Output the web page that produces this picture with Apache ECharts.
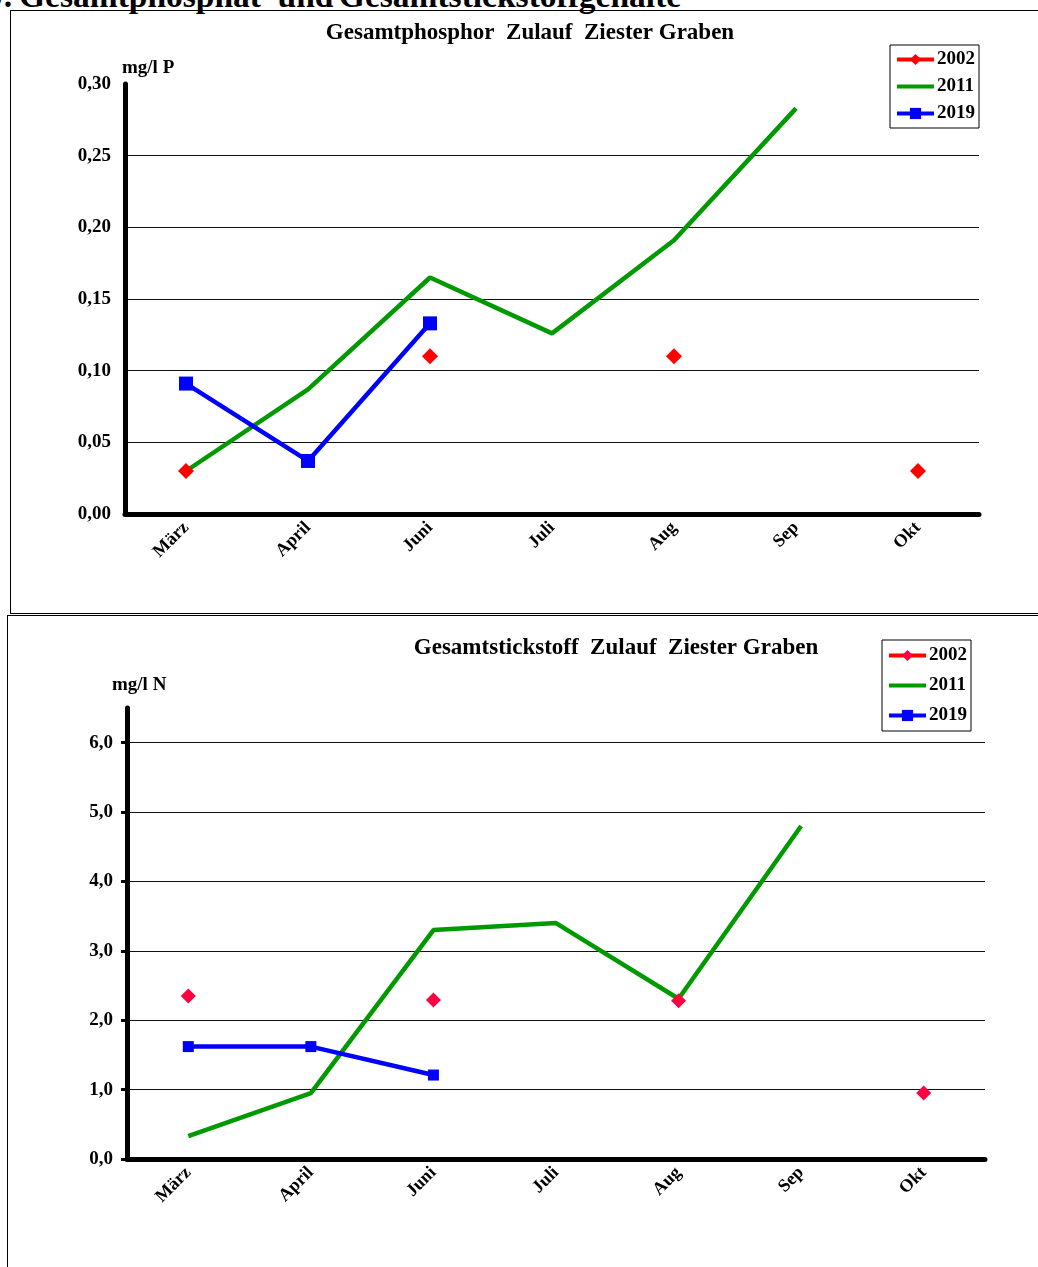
<!DOCTYPE html>
<html>
<head>
<meta charset="utf-8">
<script src="https://cdn.jsdelivr.net/npm/echarts@6/dist/echarts.min.js"></script>
<style>
  html, body { margin: 0; padding: 0; background: #fff; }
  body { width: 1038px; height: 1267px; position: relative; overflow: hidden; font-family: "Liberation Serif", "DejaVu Serif", serif; }
  #heading { position: absolute; left: -31px; top: -21px; font-size: 33.5px; font-weight: bold; white-space: nowrap; line-height: 33px; color: #000; word-spacing: -3px; }
  .frame { position: absolute; box-sizing: border-box; }
  #f1 { left: 10px; top: 10px; width: 1100px; height: 604px; border-left: 1px solid #000; border-top: 1px solid #000; border-bottom: 1px solid #000; }
  #f2 { left: 7px; top: 615px; width: 1100px; height: 700px; border-left: 1px solid #000; border-top: 1px solid #000; }
  #c1 { position: absolute; left: 0; top: 0; width: 1038px; height: 612px; }
  #c2 { position: absolute; left: 0; top: 614px; width: 1038px; height: 653px; }
</style>
</head>
<body>
<div id="heading">10: Gesamtphosphat- und Gesamtstickstoffgehalte</div>
<div class="frame" id="f1"></div>
<div class="frame" id="f2"></div>
<div id="c1"></div>
<div id="c2"></div>
<script>
// ---- Data ----
const categories = ['März', 'April', 'Juni', 'Juli', 'Aug', 'Sep', 'Okt'];
const seriesNames = ['2002', '2011', '2019'];

// Gesamtphosphor (mg/l P)
const p2002 = [0.030, null, 0.110, null, 0.110, null, 0.030];
const p2011 = [0.030, 0.087, 0.165, 0.126, 0.191, 0.283, null];
const p2019 = [0.091, 0.037, 0.133, null, null, null, null];
const pTicks = [0, 0.05, 0.10, 0.15, 0.20, 0.25, 0.30];

// Gesamtstickstoff (mg/l N)
const n2002 = [2.35, null, 2.29, null, 2.28, null, 0.95];
const n2011 = [0.33, 0.95, 3.30, 3.40, 2.31, 4.80, null];
const n2019 = [1.62, 1.62, 1.21, null, null, null, null];
const nTicks = [0, 1, 2, 3, 4, 5, 6];

const FONT = '"Liberation Serif", "Times New Roman", serif';
const GREEN = '#009a00';
const BLUE = '#0000ff';

function makeOption(cfg) {
  return {
    animation: false,
    title: [
      { text: cfg.title, left: cfg.titleX, top: cfg.titleY, textAlign: 'center',
        textStyle: { fontFamily: FONT, fontWeight: 'bold', fontSize: 23, color: '#000' } },
      { text: cfg.unit, left: cfg.unitX, top: cfg.unitY,
        textStyle: { fontFamily: FONT, fontWeight: 'bold', fontSize: 19, color: '#000' } }
    ],
    legend: {
      orient: 'vertical',
      left: cfg.legendX, top: cfg.legendY,
      borderColor: '#000', borderWidth: 1,
      padding: cfg.legendPad,
      itemGap: cfg.legendGap,
      itemWidth: 37, itemHeight: 14,
      lineStyle: { width: 4 },
      textStyle: { fontFamily: FONT, fontWeight: 'bold', fontSize: 19, color: '#000', padding: [0, 0, 0, -2] },
      data: [
        { name: '2002', itemStyle: { color: cfg.c2002 }, lineStyle: { color: '#ff0000', width: 4 } },
        { name: '2011', itemStyle: { opacity: 0 }, lineStyle: { color: GREEN, width: 4 } },
        { name: '2019', lineStyle: { color: BLUE, width: 4 } }
      ]
    },
    grid: { left: cfg.gridLeft, top: cfg.gridTop, width: cfg.gridW, height: cfg.gridH, containLabel: false },
    xAxis: {
      type: 'category',
      data: categories,
      boundaryGap: true,
      axisLine: { show: true, lineStyle: { color: '#000', width: 5 } },
      axisTick: { show: false },
      axisLabel: { rotate: 45, margin: 11, interval: 0, fontFamily: FONT, fontWeight: 'bold', fontSize: 18, color: '#000' },
      splitLine: { show: false }
    },
    yAxis: {
      type: 'value',
      min: 0, max: cfg.yMax, interval: cfg.yInterval,
      axisLine: { show: true, lineStyle: { color: '#000', width: 5 } },
      axisTick: cfg.yTick ? { show: true, inside: false, length: 6, lineStyle: { color: '#000', width: 3 }, customValues: cfg.ticks } : { show: false },
      axisLabel: {
        margin: 14,
        customValues: cfg.ticks,
        fontFamily: FONT, fontWeight: 'bold', fontSize: 19, color: '#000',
        formatter: v => v.toFixed(cfg.dec).replace('.', ',')
      },
      splitLine: { show: true, showMinLine: false, showMaxLine: cfg.showMax, lineStyle: { color: '#111', width: 1.2 } }
    },
    series: [
      { name: '2002', type: 'line', data: cfg.d2002, symbol: 'diamond', symbolSize: cfg.diaSize,
        itemStyle: { color: cfg.c2002 }, lineStyle: { color: '#ff0000', width: 4 }, connectNulls: false, z: 4 },
      { name: '2011', type: 'line', data: cfg.d2011, symbol: 'none', showSymbol: false,
        itemStyle: { color: GREEN }, lineStyle: { color: GREEN, width: 4.5 }, connectNulls: false, z: 2 },
      { name: '2019', type: 'line', data: cfg.d2019, symbol: 'rect', symbolSize: cfg.sqSize,
        itemStyle: { color: BLUE }, lineStyle: { color: BLUE, width: 4.5 }, connectNulls: false, z: 3 }
    ]
  };
}

const chart1 = echarts.init(document.getElementById('c1'));
chart1.setOption(makeOption({
  title: 'Gesamtphosphor  Zulauf  Ziester Graben', titleX: 525, titleY: 17,
  unit: 'mg/l P', unitX: 117, unitY: 54,
  legendX: 890, legendY: 45, legendPad: [5, 4, 5, 5], legendGap: 8,
  gridLeft: 125, gridTop: 84, gridW: 854, gridH: 430,
  yMax: 0.30, yInterval: 0.05, ticks: pTicks, dec: 2, yTick: false, showMax: false,
  d2002: p2002, d2011: p2011, d2019: p2019,
  c2002: '#ff0000', diaSize: 16, sqSize: 14
}));

const chart2 = echarts.init(document.getElementById('c2'));
chart2.setOption(makeOption({
  title: 'Gesamtstickstoff  Zulauf  Ziester Graben', titleX: 611, titleY: 18,
  unit: 'mg/l N', unitX: 107, unitY: 57,
  legendX: 882, legendY: 26, legendPad: [6, 4, 6, 5], legendGap: 11,
  gridLeft: 127, gridTop: 94, gridW: 858, gridH: 451,
  yMax: 6.5, yInterval: 1, ticks: nTicks, dec: 1, yTick: true, showMax: true,
  d2002: n2002, d2011: n2011, d2019: n2019,
  c2002: '#ff0040', diaSize: 15, sqSize: 11
}));
</script>
</body>
</html>
